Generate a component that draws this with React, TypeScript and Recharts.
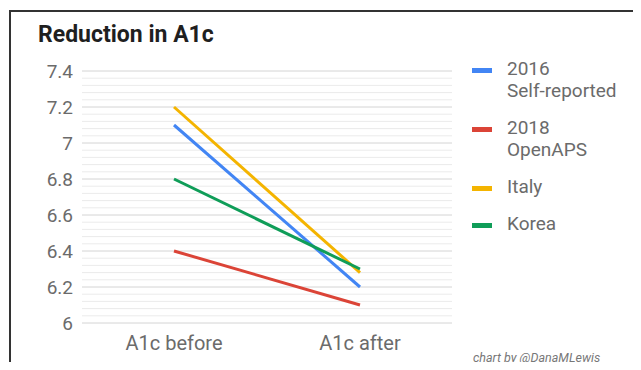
import React from 'react'
import { LineChart, Line, XAxis, YAxis, CartesianGrid, ReferenceLine } from 'recharts'

const categories = ['A1c before', 'A1c after']

const selfReported2016 = [7.1, 6.2]
const openAPS2018 = [6.4, 6.1]
const italy = [7.2, 6.28]
const korea = [6.8, 6.3]

const yTicks = [6, 6.2, 6.4, 6.6, 6.8, 7, 7.2, 7.4]
// minor gridlines every 0.04 (skip the ones that sit on a major tick)
const minorTicks = Array.from({ length: 36 }, (_, i) => +(6 + i * 0.04).toFixed(2)).filter(
  (t) => !yTicks.includes(t)
)

const series = [
  { key: 'selfReported2016', label: ['2016', 'Self-reported'], color: '#4285f4', values: selfReported2016 },
  { key: 'openAPS2018', label: ['2018', 'OpenAPS'], color: '#db4437', values: openAPS2018 },
  { key: 'italy', label: ['Italy'], color: '#f4b400', values: italy },
  { key: 'korea', label: ['Korea'], color: '#0f9d58', values: korea },
]

const data = categories.map((name, i) => {
  const row: Record<string, string | number> = { name }
  series.forEach((s) => {
    row[s.key] = s.values[i]
  })
  return row
})

const font = 'Roboto, "Noto Sans", sans-serif'

const App: React.FC = () => {
  return (
    <div style={{ position: 'relative', width: 641, height: 370, margin: -8, background: '#fff', fontFamily: font }}>
      {/* frame */}
      <div style={{ position: 'absolute', left: 9, top: 10, right: 0, height: 2, background: '#333' }} />
      <div style={{ position: 'absolute', left: 9, top: 10, bottom: 0, width: 2, background: '#333' }} />

      <div
        style={{
          position: 'absolute',
          left: 38,
          top: 21,
          fontSize: 23,
          fontWeight: 700,
          color: '#1f1f1f',
          lineHeight: '28px',
        }}
      >
        Reduction in A1c
      </div>

      <div style={{ position: 'absolute', left: 0, top: 0 }}>
        <LineChart width={641} height={370} data={data} margin={{ top: 71, right: 189, bottom: 17, left: 42 }}>
          {minorTicks.map((t) => (
            <ReferenceLine key={t} y={t} stroke="#ebebeb" strokeWidth={1} />
          ))}
          <CartesianGrid vertical={false} stroke="#d4d4d4" />
          <XAxis
            dataKey="name"
            padding={{ left: 92, right: 92 }}
            axisLine={false}
            tickLine={false}
            tick={{ fontSize: 20, fill: '#6b6b6b', fontFamily: font }}
            tickMargin={7}
            height={30}
          />
          <YAxis
            domain={[6, 7.4]}
            ticks={yTicks}
            interval={0}
            width={40}
            axisLine={false}
            tickLine={false}
            tickMargin={3}
            tickFormatter={(v: number) => String(v)}
            tick={{ fontSize: 19, fill: '#6b6b6b', fontFamily: font }}
          />
          {series.map((s) => (
            <Line
              key={s.key}
              type="linear"
              dataKey={s.key}
              stroke={s.color}
              strokeWidth={3}
              dot={false}
              activeDot={false}
              isAnimationActive={false}
            />
          ))}
        </LineChart>
      </div>

      {/* legend */}
      <div style={{ position: 'absolute', left: 472, top: 58 }}>
        {series.map((s) => (
          <div key={s.key} style={{ display: 'flex', alignItems: 'flex-start', marginBottom: 15 }}>
            <div style={{ width: 20, height: 5, background: s.color, marginTop: 10, marginRight: 15 }} />
            <div style={{ fontSize: 19, lineHeight: '22px', color: '#6b6b6b' }}>
              {s.label.map((l) => (
                <div key={l}>{l}</div>
              ))}
            </div>
          </div>
        ))}
      </div>

      <div
        style={{
          position: 'absolute',
          left: 473,
          top: 350,
          fontSize: 12.5,
          fontStyle: 'italic',
          color: '#777',
        }}
      >
        chart by @DanaMLewis
      </div>
    </div>
  )
}

export default App
